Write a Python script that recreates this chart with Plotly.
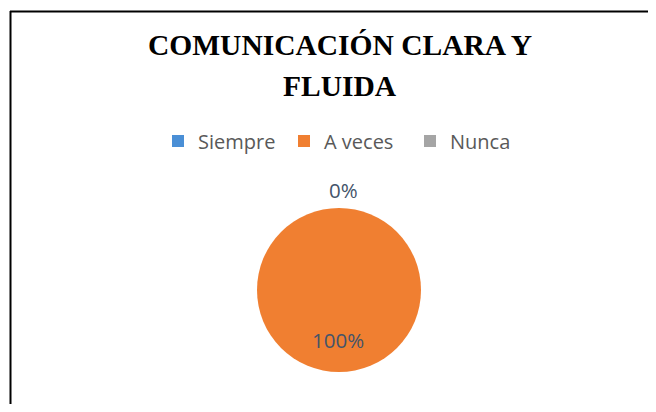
import plotly.graph_objects as go

categories = ["Siempre", "A veces", "Nunca"]
values = [0, 100, 0]
colors = ["#4A8FD6", "#F07F31", "#A5A5A5"]
title_lines = ["COMUNICACIÓN CLARA Y", "FLUIDA"]

# page body has an 8px margin; keep the figure inside the window (no scrollbars)
OFF = 8
W, H = 656 - 2 * OFF, 412 - 2 * OFF


def px(x):
    return (x - OFF) / W


def py(y):
    return 1 - (y - OFF) / H


total = sum(values)
pcts = [f"{round(v / total * 100)}%" for v in values]

fig = go.Figure()
fig.add_trace(go.Pie(
    labels=categories,
    values=values,
    sort=False,
    direction="clockwise",
    rotation=0,
    marker=dict(colors=colors, line=dict(width=0)),
    textinfo="none",
    hoverinfo="label+percent",
    domain=dict(x=[px(257), px(421)], y=[py(372), py(208)]),
    showlegend=True,
))

label_font = dict(family="Open Sans", size=20.5, color="#44546A")
fig.add_annotation(x=px(343), y=py(190), xref="paper", yref="paper",
                   xanchor="center", yanchor="middle",
                   text=pcts[0], showarrow=False, font=label_font)
fig.add_annotation(x=px(338), y=py(340), xref="paper", yref="paper",
                   xanchor="center", yanchor="middle",
                   text=pcts[1], showarrow=False, font=label_font)

title_font = dict(family="Liberation Serif", size=29.5, color="#000000")
fig.add_annotation(x=px(340), y=py(45), xref="paper", yref="paper",
                   xanchor="center", yanchor="middle",
                   text="<b>" + title_lines[0] + "</b>", showarrow=False, font=title_font)
fig.add_annotation(x=px(340), y=py(86), xref="paper", yref="paper",
                   xanchor="center", yanchor="middle",
                   text="<b>" + title_lines[1] + "</b>", showarrow=False, font=title_font)

# border lines (left and top)
fig.add_shape(type="line", xref="paper", yref="paper",
              x0=px(10.5), x1=px(10.5), y0=0, y1=py(11),
              line=dict(color="#000000", width=2))
fig.add_shape(type="line", xref="paper", yref="paper",
              x0=px(10), x1=1, y0=py(11.5), y1=py(11.5),
              line=dict(color="#000000", width=2))

fig.update_layout(
    width=W, height=H,
    margin=dict(l=0, r=0, t=0, b=0, autoexpand=False),
    paper_bgcolor="#FFFFFF",
    plot_bgcolor="#FFFFFF",
    legend=dict(orientation="h", x=px(158), xanchor="left", y=py(141), yanchor="middle",
                font=dict(family="Open Sans", size=20, color="#595959"),
                itemwidth=30,
                entrywidth=81, entrywidthmode="pixels",
                itemclick=False, traceorder="normal"),
)

fig.write_html("out.html")
